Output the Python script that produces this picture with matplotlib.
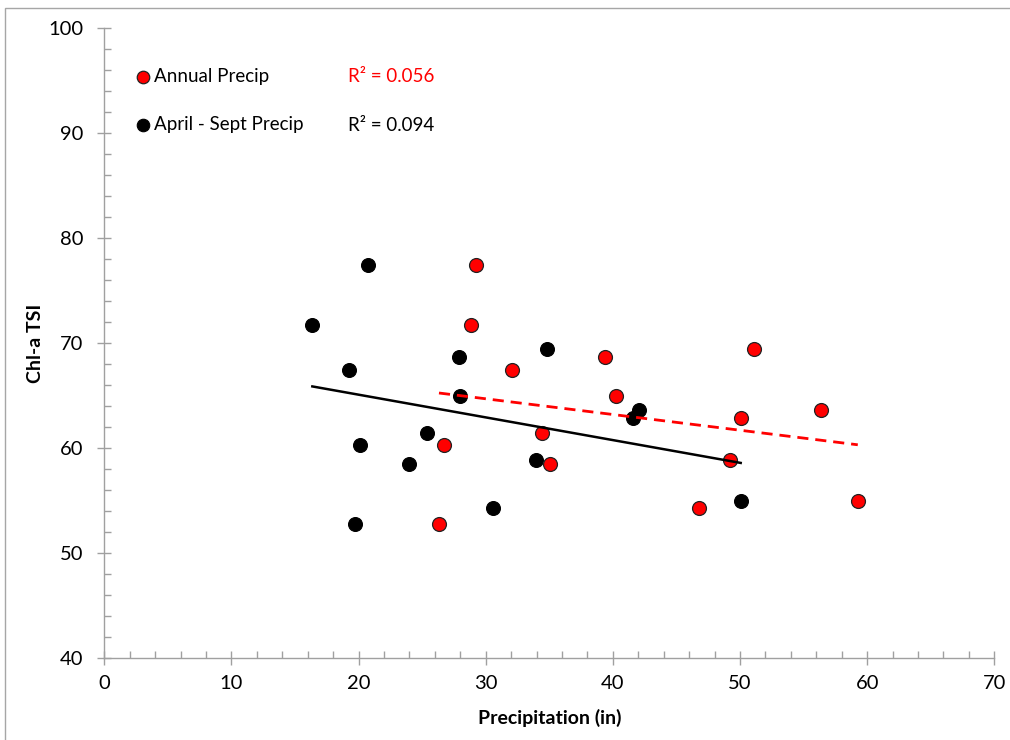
import numpy as np
import matplotlib
matplotlib.use('Agg')
import matplotlib.pyplot as plt
from matplotlib.patches import Rectangle
from matplotlib.ticker import MultipleLocator

plt.rcParams['font.family'] = ['Lato', 'DejaVu Sans']

# Chl-a TSI per year, with annual and April-Sept precipitation
tsi = [77.5, 71.75, 67.46, 68.65, 69.45, 65.0, 61.44, 60.28, 58.5, 58.89,
       54.31, 52.8, 63.65, 62.86, 54.95]
annual_precip = [29.24, 28.84, 32.09, 39.4, 51.1, 40.26, 34.43, 26.7, 35.06, 49.24,
                 46.75, 26.32, 56.37, 50.08, 59.26]
aprsep_precip = [20.72, 16.36, 19.27, 27.92, 34.82, 28.0, 25.38, 20.14, 23.97, 33.95,
                 30.55, 19.74, 42.08, 41.56, 50.05]
r2_annual = '0.056'
r2_aprsep = '0.094'

fig = plt.figure(figsize=(10.1, 7.4), dpi=100)
ax = fig.add_axes([0.1033, 0.1104, 0.8812, 0.8514])

# outer chart border (only left/top visible in the reference)
fig.patches.append(Rectangle((5 / 1010, -0.05), 1.2, 1 - 8 / 740 + 0.05,
                             transform=fig.transFigure, fill=False,
                             edgecolor='#a6a6a6', linewidth=1.0))

ax.scatter(aprsep_precip, tsi, s=100, c='black', edgecolors='black',
           linewidths=0.8, zorder=3, label='April - Sept Precip')
ax.scatter(annual_precip, tsi, s=100, c='#ff0000', edgecolors='#222222',
           linewidths=0.9, zorder=3, label='Annual Precip')

# linear trendlines
xa = np.array(annual_precip)
xb = np.array(aprsep_precip)
y = np.array(tsi)
pa = np.polyfit(xa, y, 1)
pb = np.polyfit(xb, y, 1)
xr = np.array([xa.min(), xa.max()])
ax.plot(xr, np.polyval(pa, xr), color='#ff0000', lw=2, ls=(0, (4, 2.5)), zorder=4)
xr = np.array([xb.min(), xb.max()])
ax.plot(xr, np.polyval(pb, xr), color='black', lw=1.8, zorder=4)

ax.set_xlim(0, 70)
ax.set_ylim(40, 100)
ax.xaxis.set_major_locator(MultipleLocator(10))
ax.xaxis.set_minor_locator(MultipleLocator(2))
ax.yaxis.set_major_locator(MultipleLocator(10))
ax.yaxis.set_minor_locator(MultipleLocator(2))

for s in ['top', 'right']:
    ax.spines[s].set_visible(False)
for s in ['left', 'bottom']:
    ax.spines[s].set_color('#a0a0a0')
    ax.spines[s].set_linewidth(1.0)

ax.tick_params(which='major', direction='inout', length=10, width=1,
               color='#a0a0a0', labelsize=14.5, labelcolor='black')
ax.tick_params(which='minor', direction='in', length=5, width=1, color='#a0a0a0')
ax.tick_params(axis='x', pad=7)
ax.tick_params(axis='y', pad=10)

ax.set_xlabel('Precipitation (in)', fontsize=14, fontweight='bold', labelpad=12)
ax.set_ylabel('Chl-a TSI', fontsize=14, fontweight='bold', labelpad=3)

handles, labels = ax.get_legend_handles_labels()
leg = ax.legend(handles[::-1], labels[::-1], loc='upper left',
                bbox_to_anchor=(0.0245, 0.949), frameon=False, fontsize=13.5,
                handletextpad=0.1, handlelength=1.0, labelspacing=1.65,
                markerscale=0.9, borderaxespad=0)

ax.text(0.274, 0.924, 'R² = ' + r2_annual, transform=ax.transAxes,
        color='#ff0000', fontsize=13.5, va='center')
ax.text(0.274, 0.845, 'R² = ' + r2_aprsep, transform=ax.transAxes,
        color='black', fontsize=13.5, va='center')

fig.savefig('out.png', dpi=100)
